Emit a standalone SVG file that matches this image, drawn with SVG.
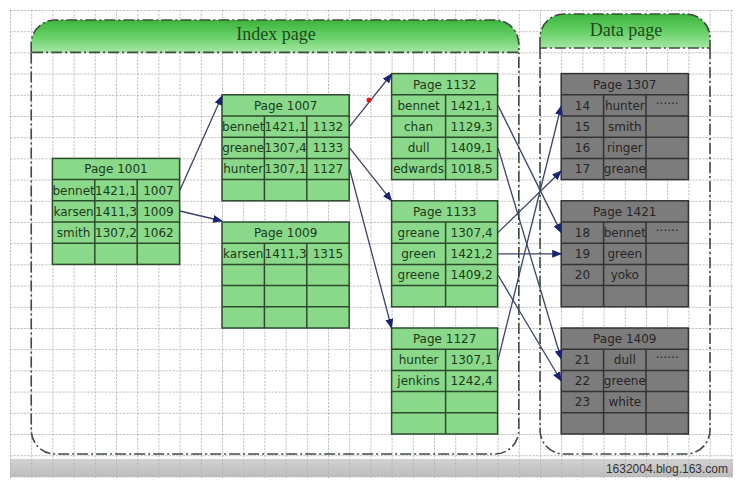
<svg xmlns="http://www.w3.org/2000/svg" width="742" height="482" viewBox="0 0 742 482">
<defs>
<pattern id="grid" x="10" y="10" width="21.2" height="21.2" patternUnits="userSpaceOnUse">
<path d="M0,0.5 H21.2 M0.5,0 V21.2" fill="none" stroke="#b4b4b4" stroke-width="1" stroke-dasharray="2 1.5"/>
</pattern>
<linearGradient id="hdr" x1="0" y1="0" x2="0" y2="1">
<stop offset="0" stop-color="#3cb43c"/>
<stop offset="0.55" stop-color="#6ad26a"/>
<stop offset="1" stop-color="#a6e6a6"/>
</linearGradient>
<linearGradient id="bar" x1="0" y1="0" x2="0" y2="1">
<stop offset="0" stop-color="#d2d2d2"/>
<stop offset="1" stop-color="#bdbdbd"/>
</linearGradient>
<marker id="arr" markerWidth="10" markerHeight="8" refX="9" refY="4" orient="auto" markerUnits="userSpaceOnUse">
<path d="M0,0 L10,4 L0,8 Z" fill="#1b2470"/>
</marker>
<style>
.frame{fill:none;stroke:#3f4d3f;stroke-width:1.6;stroke-dasharray:11 3 2 3}
.hfill{fill:url(#hdr);stroke:#3f4d3f;stroke-width:1.6;stroke-dasharray:11 3 2 3}
.title{font-family:"Liberation Serif","Times New Roman",serif;font-size:18px;fill:#1c4a1c;text-anchor:middle}
.gbox{fill:#8ad98a;stroke:#2c4a2c;stroke-width:1.5}
.kbox{fill:#7c7c7c;stroke:#333333;stroke-width:1.5}
.gl{fill:none;stroke:#2c4a2c;stroke-width:1.5}
.kl{fill:none;stroke:#333333;stroke-width:1.5}
.gt{font-family:"DejaVu Sans",Verdana,sans-serif;font-size:12px;fill:#1a3a1a;text-anchor:middle}
.kt{font-family:"DejaVu Sans",Verdana,sans-serif;font-size:12px;fill:#262626;text-anchor:middle}
.conn{fill:none;stroke:#3a4468;stroke-width:1.3;marker-end:url(#arr)}
.wm{font-family:"Liberation Sans",Arial,sans-serif;font-size:12px;fill:#333333;text-anchor:end}
</style>
</defs>
<rect width="742" height="482" fill="#ffffff"/>
<rect x="10" y="459" width="723" height="18" fill="url(#bar)"/>
<rect x="10" y="10" width="723" height="468" fill="url(#grid)"/>
<text class="wm" x="728" y="473">1632004.blog.163.com</text>

<g id="index-page">
<path class="hfill" d="M31.2,52.4 V44 A24,24 0 0 1 55.2,20 H494.8 A24,24 0 0 1 518.8,44 V52.4 Z"/>
<path class="frame" d="M31.2,52.4 V430 A24,24 0 0 0 55.2,454 H494.8 A24,24 0 0 0 518.8,430 V52.4"/>
<text class="title" x="276" y="40">Index page</text>
</g>
<g id="data-page">
<path class="hfill" d="M540,48 V38 A24,24 0 0 1 564,14 H686 A24,24 0 0 1 710,38 V48 Z"/>
<path class="frame" d="M540,48 V430 A24,24 0 0 0 564,454 H686 A24,24 0 0 0 710,430 V48"/>
<text class="title" x="626" y="36">Data page</text>
</g>

<g id="page-1001">
<rect class="gbox" x="52.4" y="158.4" width="127.2" height="106"/>
<path class="gl" d="M52.4,179.6 H179.6 M52.4,200.8 H179.6 M52.4,222 H179.6 M52.4,243.2 H179.6 M94.8,179.6 V264.4 M137.2,179.6 V264.4"/>
<text class="gt" x="116" y="173">Page 1001</text>
<text class="gt" x="73.6" y="195">bennet</text><text class="gt" x="116" y="195">1421,1</text><text class="gt" x="158.4" y="195">1007</text>
<text class="gt" x="73.6" y="216">karsen</text><text class="gt" x="116" y="216">1411,3</text><text class="gt" x="158.4" y="216">1009</text>
<text class="gt" x="73.6" y="237">smith</text><text class="gt" x="116" y="237">1307,2</text><text class="gt" x="158.4" y="237">1062</text>
</g>

<g id="page-1007">
<rect class="gbox" x="222" y="94.8" width="127.2" height="106"/>
<path class="gl" d="M222,116 H349.2 M222,137.2 H349.2 M222,158.4 H349.2 M222,179.6 H349.2 M264.4,116 V200.8 M306.8,116 V200.8"/>
<text class="gt" x="285.6" y="110">Page 1007</text>
<text class="gt" x="243.2" y="131">bennet</text><text class="gt" x="285.6" y="131">1421,1</text><text class="gt" x="328" y="131">1132</text>
<text class="gt" x="243.2" y="152">greane</text><text class="gt" x="285.6" y="152">1307,4</text><text class="gt" x="328" y="152">1133</text>
<text class="gt" x="243.2" y="173">hunter</text><text class="gt" x="285.6" y="173">1307,1</text><text class="gt" x="328" y="173">1127</text>
</g>

<g id="page-1009">
<rect class="gbox" x="222" y="222" width="127.2" height="106"/>
<path class="gl" d="M222,243.2 H349.2 M222,264.4 H349.2 M222,285.6 H349.2 M222,306.8 H349.2 M264.4,243.2 V328 M306.8,243.2 V328"/>
<text class="gt" x="285.6" y="237">Page 1009</text>
<text class="gt" x="243.2" y="258">karsen</text><text class="gt" x="285.6" y="258">1411,3</text><text class="gt" x="328" y="258">1315</text>
</g>

<g id="page-1132">
<rect class="gbox" x="391.6" y="73.6" width="106" height="106"/>
<path class="gl" d="M391.6,94.8 H497.6 M391.6,116 H497.6 M391.6,137.2 H497.6 M391.6,158.4 H497.6 M445.6,94.8 V179.6"/>
<text class="gt" x="444.6" y="89">Page 1132</text>
<text class="gt" x="418.6" y="110">bennet</text><text class="gt" x="471.6" y="110">1421,1</text>
<text class="gt" x="418.6" y="131">chan</text><text class="gt" x="471.6" y="131">1129,3</text>
<text class="gt" x="418.6" y="152">dull</text><text class="gt" x="471.6" y="152">1409,1</text>
<text class="gt" x="418.6" y="173">edwards</text><text class="gt" x="471.6" y="173">1018,5</text>
</g>

<g id="page-1133">
<rect class="gbox" x="391.6" y="200.8" width="106" height="106"/>
<path class="gl" d="M391.6,222 H497.6 M391.6,243.2 H497.6 M391.6,264.4 H497.6 M391.6,285.6 H497.6 M445.6,222 V306.8"/>
<text class="gt" x="444.6" y="216">Page 1133</text>
<text class="gt" x="418.6" y="237">greane</text><text class="gt" x="471.6" y="237">1307,4</text>
<text class="gt" x="418.6" y="258">green</text><text class="gt" x="471.6" y="258">1421,2</text>
<text class="gt" x="418.6" y="279">greene</text><text class="gt" x="471.6" y="279">1409,2</text>
</g>

<g id="page-1127">
<rect class="gbox" x="391.6" y="328" width="106" height="106"/>
<path class="gl" d="M391.6,349.2 H497.6 M391.6,370.4 H497.6 M391.6,391.6 H497.6 M391.6,412.8 H497.6 M445.6,349.2 V434"/>
<text class="gt" x="444.6" y="343">Page 1127</text>
<text class="gt" x="418.6" y="364">hunter</text><text class="gt" x="471.6" y="364">1307,1</text>
<text class="gt" x="418.6" y="385">jenkins</text><text class="gt" x="471.6" y="385">1242,4</text>
</g>

<g id="page-1307">
<rect class="kbox" x="561.2" y="73.6" width="127.2" height="106"/>
<path class="kl" d="M561.2,94.8 H688.4 M561.2,116 H688.4 M561.2,137.2 H688.4 M561.2,158.4 H688.4 M603.6,94.8 V179.6 M646,94.8 V179.6"/>
<text class="kt" x="624.8" y="89">Page 1307</text>
<text class="kt" x="582.4" y="110">14</text><text class="kt" x="624.8" y="110">hunter</text><text class="kt" x="667.2" y="108">······</text>
<text class="kt" x="582.4" y="131">15</text><text class="kt" x="624.8" y="131">smith</text>
<text class="kt" x="582.4" y="152">16</text><text class="kt" x="624.8" y="152">ringer</text>
<text class="kt" x="582.4" y="173">17</text><text class="kt" x="624.8" y="173">greane</text>
</g>

<g id="page-1421">
<rect class="kbox" x="561.2" y="200.8" width="127.2" height="106"/>
<path class="kl" d="M561.2,222 H688.4 M561.2,243.2 H688.4 M561.2,264.4 H688.4 M561.2,285.6 H688.4 M603.6,222 V306.8 M646,222 V306.8"/>
<text class="kt" x="624.8" y="216">Page 1421</text>
<text class="kt" x="582.4" y="237">18</text><text class="kt" x="624.8" y="237">bennet</text><text class="kt" x="667.2" y="235">······</text>
<text class="kt" x="582.4" y="258">19</text><text class="kt" x="624.8" y="258">green</text>
<text class="kt" x="582.4" y="279">20</text><text class="kt" x="624.8" y="279">yoko</text>
</g>

<g id="page-1409">
<rect class="kbox" x="561.2" y="328" width="127.2" height="106"/>
<path class="kl" d="M561.2,349.2 H688.4 M561.2,370.4 H688.4 M561.2,391.6 H688.4 M561.2,412.8 H688.4 M603.6,349.2 V434 M646,349.2 V434"/>
<text class="kt" x="624.8" y="343">Page 1409</text>
<text class="kt" x="582.4" y="364">21</text><text class="kt" x="624.8" y="364">dull</text><text class="kt" x="667.2" y="362">······</text>
<text class="kt" x="582.4" y="385">22</text><text class="kt" x="624.8" y="385">greene</text>
<text class="kt" x="582.4" y="406">23</text><text class="kt" x="624.8" y="406">white</text>
</g>

<g id="connectors">
<path class="conn" d="M180,190 L222,96"/>
<path class="conn" d="M180,211 L222,221"/>
<path class="conn" d="M349.6,126.6 L391.6,74"/>
<path class="conn" d="M349.6,147.8 L391.6,200.8"/>
<path class="conn" d="M349.6,169 L391.6,328"/>
<path class="conn" d="M498,105.4 L561.2,232.6"/>
<path class="conn" d="M498,147.8 L561.2,359"/>
<path class="conn" d="M498,232.6 L561.2,171"/>
<path class="conn" d="M498,253.8 L561.2,253.8"/>
<path class="conn" d="M498,275 L561.2,381"/>
<path class="conn" d="M498,359.8 L561.2,106"/>
</g>
<circle cx="369" cy="100" r="2.5" fill="#e01818"/>
</svg>
